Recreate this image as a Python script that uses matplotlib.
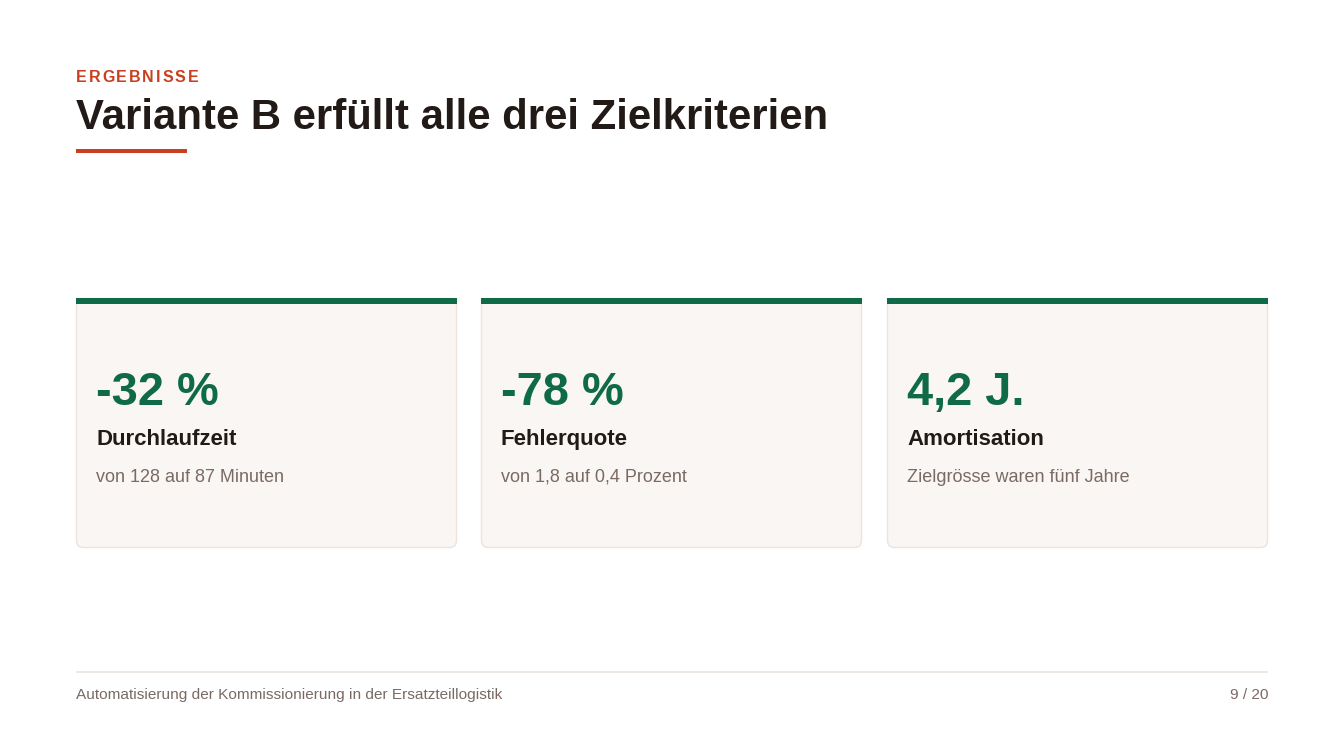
import matplotlib
matplotlib.use("Agg")
import matplotlib.pyplot as plt
from matplotlib.patches import FancyBboxPatch, Rectangle

plt.rcParams['font.family'] = ['Liberation Sans', 'DejaVu Sans']

eyebrow = "ERGEBNISSE"
title = "Variante B erfüllt alle drei Zielkriterien"
kpi_values = ["-32 %", "-78 %", "4,2 J."]
kpi_labels = ["Durchlaufzeit", "Fehlerquote", "Amortisation"]
kpi_notes = ["von 128 auf 87 Minuten", "von 1,8 auf 0,4 Prozent", "Zielgrösse waren fünf Jahre"]
footer_text = "Automatisierung der Kommissionierung in der Ersatzteillogistik"
page_text = "9 / 20"

RED = "#C8401F"
DARK = "#221A16"
GREEN = "#0F6B47"
GREY = "#7A6A63"
CARD_BG = "#F9F6F3"
CARD_EDGE = "#ECE4DF"
LINE = "#ECE6E2"

W, H = 1344, 756
fig = plt.figure(figsize=(W / 100, H / 100), dpi=100)
fig.patch.set_facecolor("white")
ax = fig.add_axes([0, 0, 1, 1])
ax.set_xlim(0, W)
ax.set_ylim(H, 0)
ax.axis("off")

renderer = fig.canvas.get_renderer()

# Eyebrow with letter spacing
x = 76
spacing = 1.85
for ch in eyebrow:
    t = ax.text(x, 81.5, ch, fontsize=11.5, fontweight="bold", color=RED,
                va="baseline", ha="left")
    bb = t.get_window_extent(renderer)
    x += bb.width + spacing

ax.text(75.5, 129, title, fontsize=30.2, fontweight="bold", color=DARK,
        va="baseline", ha="left")
ax.add_patch(Rectangle((76, 149), 111, 4, facecolor=RED, edgecolor="none"))

# Cards
card_x = [76, 481, 887]
card_w = 381
top, bottom = 298, 548
for i, (val, lab, note) in enumerate(zip(kpi_values, kpi_labels, kpi_notes)):
    cx = card_x[i]
    ax.add_patch(FancyBboxPatch((cx + 0.5, top + 0.5), card_w - 1, bottom - top - 1,
                                boxstyle="round,pad=0,rounding_size=7",
                                facecolor=CARD_BG, edgecolor=CARD_EDGE, linewidth=1))
    ax.add_patch(Rectangle((cx, top), card_w, 6, facecolor=GREEN, edgecolor="none"))
    ax.text(cx + 20, 405, val, fontsize=33.8, fontweight="bold", color=GREEN,
            va="baseline", ha="left")
    ax.text(cx + 20, 445, lab, fontsize=16, fontweight="bold", color=DARK,
            va="baseline", ha="left")
    ax.text(cx + 20, 482, note, fontsize=13, color=GREY,
            va="baseline", ha="left")

# Footer
ax.plot([76, 1268], [672, 672], color=LINE, linewidth=1.3, solid_capstyle="butt")
ax.text(76, 699, footer_text, fontsize=11.1, color=GREY, va="baseline", ha="left")
ax.text(1268, 699, page_text, fontsize=11.1, color=GREY, va="baseline", ha="right")

fig.savefig("out.png", dpi=100, facecolor="white")
